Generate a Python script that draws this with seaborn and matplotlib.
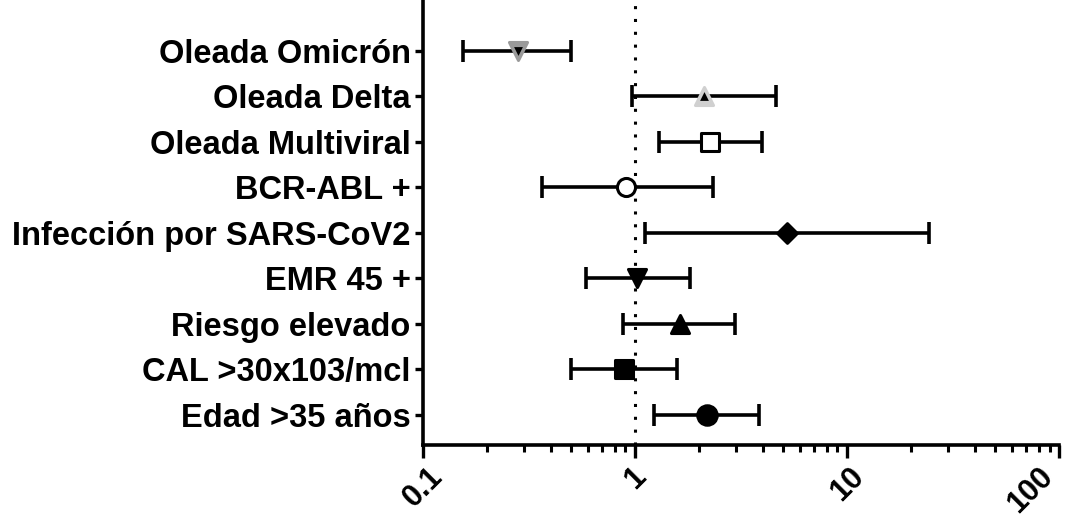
import matplotlib
matplotlib.use("Agg")
from matplotlib import pyplot as plt
import numpy as np
import pandas as pd
import seaborn as sns

# forest plot data (odds ratio, 95% CI), top to bottom
labels = ["Oleada Omicrón", "Oleada Delta", "Oleada Multiviral", "BCR-ABL +",
          "Infección por SARS-CoV2", "EMR 45 +", "Riesgo elevado",
          "CAL >30x103/mcl", "Edad >35 años"]
or_val = [0.28, 2.12, 2.26, 0.91, 5.2, 1.02, 1.63, 0.89, 2.19]
ci_low = [0.154, 0.97, 1.29, 0.363, 1.11, 0.587, 0.88, 0.50, 1.23]
ci_high = [0.50, 4.63, 3.96, 2.34, 24.4, 1.82, 2.96, 1.58, 3.85]
xticks = [0.1, 1, 10, 100]
xticklabels = ["0.1", "1", "10", "100"]

markers = ["v", "^", "s", "o", "D", "v", "^", "s", "o"]
faces = ["#9a9a9a", "#d0d0d0", "white", "white", "black", "black", "black", "black", "black"]
msizes = [13, 13, 13, 13, 10, 13, 13, 13, 14]

df = pd.DataFrame({"label": labels, "OR": or_val, "lo": ci_low, "hi": ci_high})
df["pos"] = np.arange(len(df))

sns.set_style("ticks")
plt.rcParams['font.family'] = ['Liberation Sans', 'DejaVu Sans']
plt.rcParams['font.weight'] = 'bold'
for k in ("text.color", "xtick.color", "ytick.color", "axes.edgecolor", "axes.labelcolor"):
    plt.rcParams[k] = "black"

fig = plt.figure(figsize=(10.71, 5.18), dpi=100)
ax = fig.add_axes([0.395, 0.141, 0.594, 0.859])

ax.axvline(1, color="black", lw=2.2, ls=(0, (1, 3.2)), zorder=1)

ax.errorbar(df["OR"], df["pos"], xerr=[df["OR"] - df["lo"], df["hi"] - df["OR"]],
            fmt="none", ecolor="black", elinewidth=2.6, capsize=8, capthick=2.6, zorder=2)

for i, row in df.iterrows():
    sns.scatterplot(x=[row["OR"]], y=[row["pos"]], marker=markers[i], s=msizes[i] ** 2,
                    color=faces[i], edgecolor="black" if faces[i] in ("white", "black") else faces[i],
                    linewidth=2.2, ax=ax, zorder=3, legend=False)
# small dark centre on the grey triangles
for i in (0, 1):
    sns.scatterplot(x=[or_val[i]], y=[i], marker=markers[i], s=40, color="black",
                    edgecolor="black", linewidth=0, ax=ax, zorder=4, legend=False)

ax.set_xscale("log")
ax.set_xlim(0.1, 100)
ax.set_ylim(8.66, -1.12)
ax.set_yticks(df["pos"])
ax.set_yticklabels(labels, fontsize=23.5, fontweight="bold")
ax.set_xticks(xticks)
ax.set_xticklabels(xticklabels, fontsize=22, fontweight="bold", rotation=45, ha="center")
ax.get_xticklabels()[-1].set_ha("right")
ax.set_xlabel("")
ax.set_ylabel("")

for s in ("left", "bottom"):
    ax.spines[s].set_linewidth(2.6)
sns.despine(ax=ax)
ax.tick_params(axis="y", length=6, width=2.4, pad=3)
ax.tick_params(axis="x", which="major", length=9, width=2.4, pad=3)
ax.tick_params(axis="x", which="minor", length=5, width=2.2)

fig.savefig("out.png", dpi=100)
